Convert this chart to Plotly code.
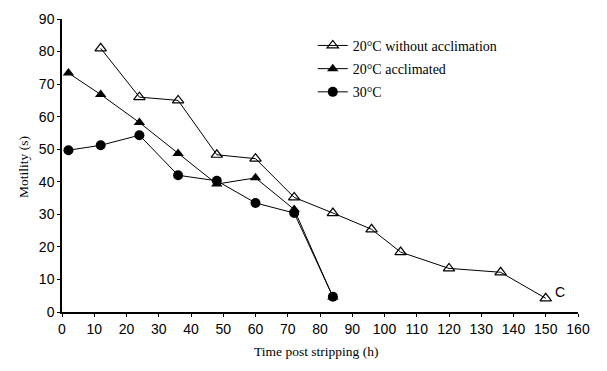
import plotly.graph_objects as go

# Data
x_noacc = [12, 24, 36, 48, 60, 72, 84, 96, 105, 120, 136, 150]
y_noacc = [81, 66, 65, 48.3, 47.1, 35.2, 30.4, 25.4, 18.4, 13.4, 12.2, 4.2]

x_acc = [2, 12, 24, 36, 48, 60, 72, 84]
y_acc = [73.4, 66.8, 58.2, 48.7, 39.3, 41.2, 31.5, 4.6]

x_30 = [2, 12, 24, 36, 48, 60, 72, 84]
y_30 = [49.7, 51.2, 54.3, 42, 40.3, 33.5, 30.4, 4.7]

x_ticks = list(range(0, 161, 10))
y_ticks = list(range(0, 91, 10))

x_title = "Time post stripping (h)"
y_title = "Motility (s)"

fig = go.Figure()
fig.add_trace(go.Scatter(x=x_noacc, y=y_noacc, mode="lines+markers",
                         name="20°C without acclimation", legendgroup="a",
                         line=dict(color="black", width=1),
                         marker=dict(symbol="triangle-up-open", size=10, color="black",
                                     line=dict(width=1.2, color="black"))))
fig.add_trace(go.Scatter(x=x_acc, y=y_acc, mode="lines+markers",
                         name="20°C acclimated", legendgroup="b",
                         line=dict(color="black", width=1),
                         marker=dict(symbol="triangle-up", size=10, color="black")))
fig.add_trace(go.Scatter(x=x_30, y=y_30, mode="lines+markers",
                         name="30°C", legendgroup="c",
                         line=dict(color="black", width=1),
                         marker=dict(symbol="circle", size=10, color="black")))

fig.add_annotation(x=154.5, y=6, text="C", showarrow=False,
                   font=dict(family="Liberation Sans, Arial", size=14, color="black"),
                   xanchor="center", yanchor="middle")

serif = dict(family="Liberation Serif, Times New Roman", size=13.5, color="black")
fig.add_annotation(x=0.5, y=0, xref="paper", yref="paper", text=x_title,
                   showarrow=False, font=serif, xanchor="center", yanchor="middle",
                   xshift=-4, yshift=-39)
fig.add_annotation(x=0, y=0.5, xref="paper", yref="paper", text=y_title,
                   showarrow=False, font=serif, textangle=-90,
                   xanchor="center", yanchor="middle", xshift=-39, yshift=-1.5)

axis_common = dict(showline=True, linecolor="black", linewidth=1.5, showgrid=False,
                   zeroline=False, ticks="outside", ticklen=3, tickcolor="black",
                   automargin=False,
                   tickfont=dict(family="Liberation Sans, Arial", size=14, color="black"))

fig.update_xaxes(range=[0, 160], tickvals=x_ticks, **axis_common)
fig.update_yaxes(range=[0, 90], tickvals=y_ticks, **axis_common)

fig.update_layout(
    width=599, height=363,
    margin=dict(l=54, r=29, t=11, b=59),
    plot_bgcolor="white", paper_bgcolor="white",
    showlegend=True,
    legend=dict(x=0.486, y=0.963, xanchor="left", yanchor="top",
                font=dict(family="Liberation Serif, Times New Roman", size=14, color="black"),
                bgcolor="rgba(0,0,0,0)", itemwidth=30, tracegroupgap=2),
)

fig.write_html("out.html")
